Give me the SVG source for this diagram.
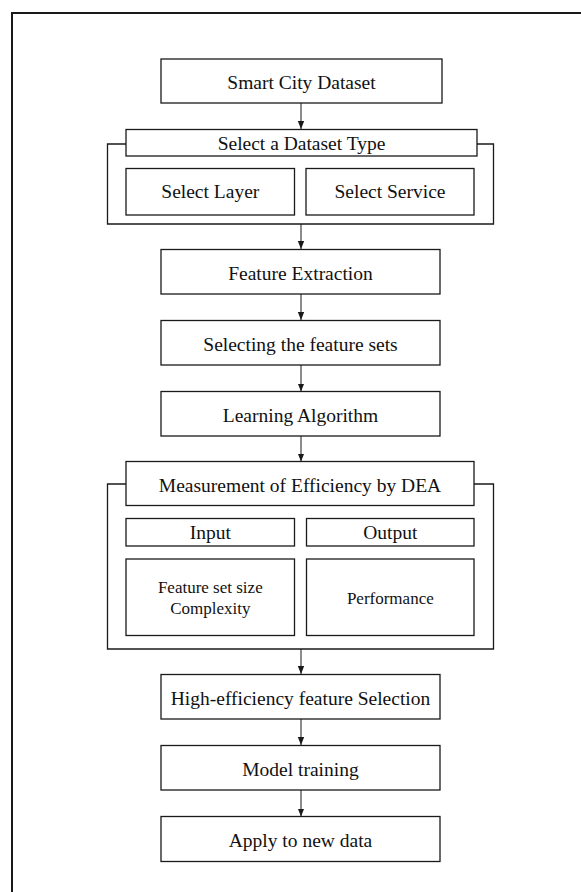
<svg xmlns="http://www.w3.org/2000/svg" width="581" height="892" viewBox="0 0 581 892">
  <style>
    .box { fill: #ffffff; stroke: #1a1a1a; stroke-width: 1.3; }
    .bracket { fill: none; stroke: #1a1a1a; stroke-width: 1.3; }
    .frame { fill: none; stroke: #1a1a1a; stroke-width: 2; }
    .link { fill: none; stroke: #1a1a1a; stroke-width: 1; marker-end: url(#arrow); }
    text { font-family: "Liberation Serif", "Times New Roman", serif; fill: #111111; text-anchor: middle; }
    .lg { font-size: 19.5px; }
    .sm { font-size: 17px; }
  </style>
  <defs>
    <marker id="arrow" viewBox="0 0 8 8" refX="8" refY="4" markerWidth="8" markerHeight="8" markerUnits="userSpaceOnUse" orient="auto">
      <path d="M0,0.8 L8,4 L0,7.2 Z" fill="#1a1a1a"/>
    </marker>
  </defs>

  <rect width="581" height="892" fill="#ffffff"/>

  <!-- page frame -->
  <path class="frame" d="M12,892 V13 H581"/>

  <!-- connectors -->
  <g id="connectors">
    <line class="link" x1="301" y1="103" x2="301" y2="129"/>
    <line class="link" x1="301" y1="224" x2="301" y2="249"/>
    <line class="link" x1="301" y1="294" x2="301" y2="320"/>
    <line class="link" x1="301" y1="365" x2="301" y2="391.5"/>
    <line class="link" x1="301" y1="436" x2="301" y2="461.5"/>
    <line class="link" x1="301" y1="649" x2="301" y2="674"/>
    <line class="link" x1="301" y1="719" x2="301" y2="745"/>
    <line class="link" x1="301" y1="790" x2="301" y2="816.5"/>
  </g>

  <g id="smart-city-dataset">
    <rect class="box" x="161" y="59" width="281" height="44"/>
    <text class="lg" x="301.5" y="88.5">Smart City Dataset</text>
  </g>

  <g id="dataset-type">
    <path class="bracket" d="M126,144 H107.5 V224 H493.5 V144 H477"/>
    <rect class="box" x="126" y="129.5" width="351" height="26.5"/>
    <text class="lg" x="301.5" y="149.5">Select a Dataset Type</text>
  </g>

  <g id="select-layer">
    <rect class="box" x="126" y="168.5" width="168.5" height="46.5"/>
    <text class="lg" x="210.3" y="198">Select Layer</text>
  </g>

  <g id="select-service">
    <rect class="box" x="306" y="168.5" width="168" height="46.5"/>
    <text class="lg" x="390" y="198">Select Service</text>
  </g>

  <g id="feature-extraction">
    <rect class="box" x="161" y="249.5" width="279" height="44.5"/>
    <text class="lg" x="300.5" y="279.5">Feature Extraction</text>
  </g>

  <g id="selecting-feature-sets">
    <rect class="box" x="161" y="320.5" width="279" height="44.5"/>
    <text class="lg" x="300.5" y="350.5">Selecting the feature sets</text>
  </g>

  <g id="learning-algorithm">
    <rect class="box" x="161" y="391.5" width="279" height="44.5"/>
    <text class="lg" x="300.5" y="421.5">Learning Algorithm</text>
  </g>

  <g id="dea-measurement">
    <path class="bracket" d="M126,484 H107.5 V649 H493.5 V484 H474"/>
    <rect class="box" x="126" y="461.5" width="348" height="44"/>
    <text class="lg" x="300" y="491.5">Measurement of Efficiency by DEA</text>
  </g>

  <g id="input">
    <rect class="box" x="126" y="518.5" width="168.5" height="27.5"/>
    <text class="lg" x="210.3" y="539">Input</text>
  </g>

  <g id="output">
    <rect class="box" x="306.5" y="518.5" width="167.5" height="27.5"/>
    <text class="lg" x="390.3" y="539">Output</text>
  </g>

  <g id="input-measures">
    <rect class="box" x="126" y="559" width="168.5" height="76.5"/>
    <text class="sm" x="210.3" y="593">Feature set size</text>
    <text class="sm" x="210.3" y="613.5">Complexity</text>
  </g>

  <g id="output-measures">
    <rect class="box" x="306.5" y="559" width="167.5" height="76.5"/>
    <text class="sm" x="390.3" y="604">Performance</text>
  </g>

  <g id="high-efficiency-selection">
    <rect class="box" x="161" y="674.5" width="279" height="44.5"/>
    <text class="lg" x="300.5" y="704.5">High-efficiency feature Selection</text>
  </g>

  <g id="model-training">
    <rect class="box" x="161" y="745.5" width="279" height="44.5"/>
    <text class="lg" x="300.5" y="775.5">Model training</text>
  </g>

  <g id="apply-new-data">
    <rect class="box" x="161" y="816.5" width="279" height="45"/>
    <text class="lg" x="300.5" y="846.5">Apply to new data</text>
  </g>
</svg>
